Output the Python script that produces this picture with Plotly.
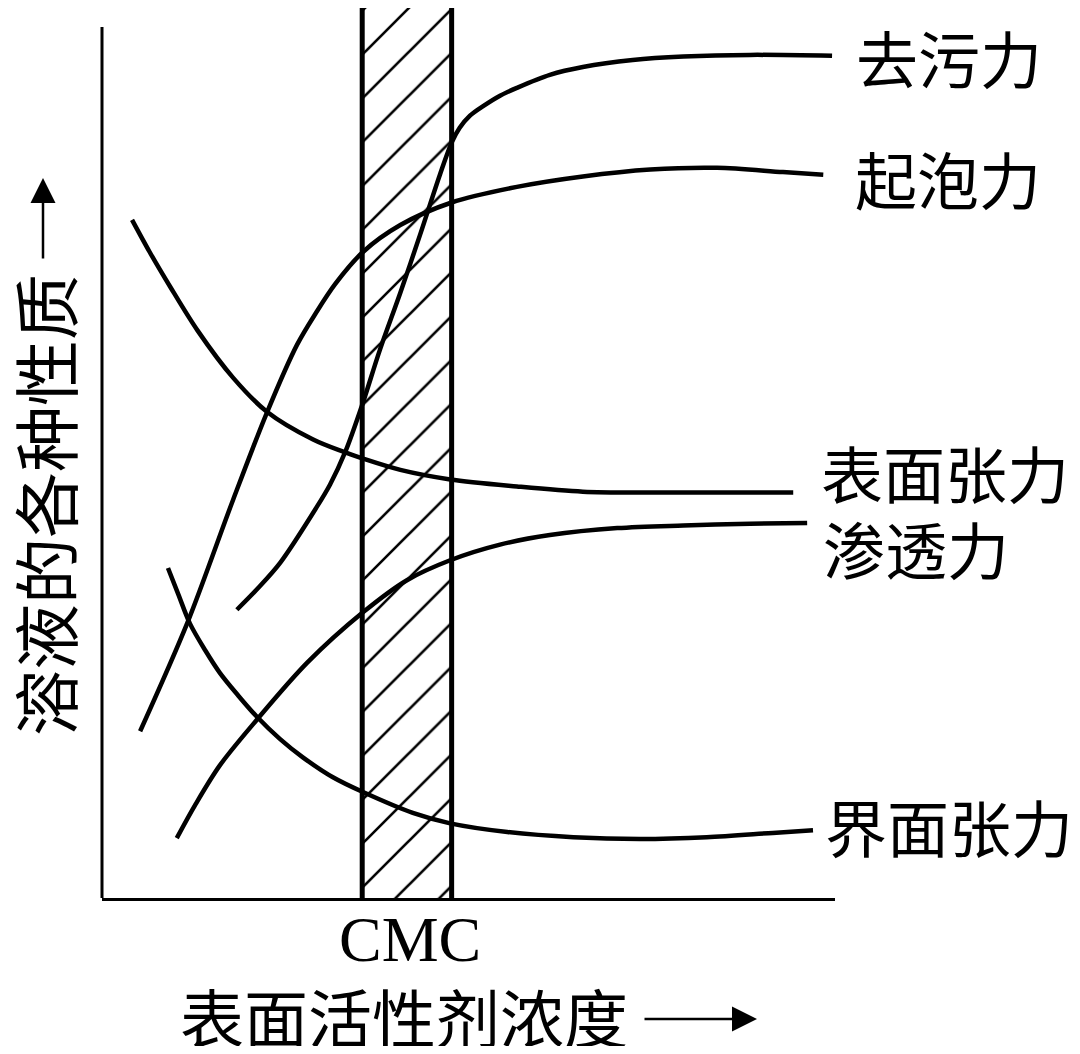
import plotly.graph_objects as go

# ---------------- data (arbitrary units: concentration 0-100, property 0-100) -------------
detergency_x = [18.4, 21.3, 24.3, 29.2, 31.1, 33.2, 35.5, 37.9, 40.7, 43.4, 46.1, 47.7, 48.8, 50.2, 52.0, 54.3, 56.6, 61.1, 65.6, 72.4, 79.3, 88.4, 99.6]
detergency_y = [33.2, 35.7, 38.6, 44.9, 47.6, 51.4, 56.8, 63.1, 69.7, 76.4, 83.3, 87.0, 88.7, 90.1, 91.2, 92.4, 93.3, 94.8, 95.7, 96.5, 96.9, 97.1, 97.0]

foaming_x = [5.2, 11.7, 17.9, 22.5, 26.6, 29.2, 31.8, 35.6, 40.7, 47.7, 56.6, 65.6, 74.8, 83.9, 92.9, 98.4]
foaming_y = [19.2, 31.8, 45.9, 55.9, 63.7, 67.4, 70.7, 74.4, 77.5, 80.1, 81.9, 83.1, 83.9, 84.1, 83.6, 83.3]

surface_x = [4.1, 6.5, 9.3, 13.0, 17.9, 22.5, 28.8, 32.9, 35.6, 40.7, 47.5, 56.6, 65.6, 74.8, 83.9, 94.3]
surface_y = [78.1, 74.4, 70.4, 65.4, 59.9, 56.0, 52.8, 51.4, 50.6, 49.3, 48.2, 47.4, 46.8, 46.7, 46.7, 46.7]

penetration_x = [10.2, 12.7, 16.1, 21.1, 28.0, 35.6, 41.6, 47.5, 54.3, 61.1, 70.3, 79.3, 88.4, 96.2]
penetration_y = [6.9, 10.7, 15.3, 20.5, 27.1, 32.9, 36.6, 38.9, 40.7, 41.8, 42.6, 42.9, 43.1, 43.2]

interfacial_x = [9.0, 10.4, 12.0, 14.1, 16.1, 18.6, 21.1, 24.3, 27.4, 31.5, 35.6, 42.4, 47.5, 55.3, 64.3, 73.4, 82.5, 91.5, 97.0]
interfacial_y = [38.0, 35.0, 31.6, 28.5, 25.9, 23.3, 20.9, 18.3, 16.2, 13.9, 12.2, 9.8, 8.6, 7.6, 7.0, 6.8, 7.0, 7.5, 7.8]

series_names = ["去污力", "起泡力", "表面张力", "渗透力", "界面张力"]

cmc_low = 35.5
cmc_high = 47.7
cmc_label = "CMC"

x_title = "表面活性剂浓度"
y_title = "溶液的各种性质"

# ---------------- layout constants ----------------
X_MAX = 100.0
Y_MAX = 102.5      # top of the CMC band
Y_AXIS_TOP = 100.3
CJK = "Noto Sans CJK SC"
TEXT_SIZE = 62

# page body has an 8px margin: plot area occupies screen x 102..835, y 8..898
PLOT_L, PLOT_R, PLOT_T, PLOT_B = 102, 835, 8, 898


def px(sx):
    return (sx - PLOT_L) / (PLOT_R - PLOT_L)


def py(sy):
    return (PLOT_B - sy) / (PLOT_B - PLOT_T)


fig = go.Figure()

# hatched CMC band
fig.add_trace(go.Scatter(
    x=[cmc_low, cmc_high, cmc_high, cmc_low, cmc_low],
    y=[0, 0, Y_MAX, Y_MAX, 0],
    mode="lines", fill="toself",
    line=dict(width=0, color="rgba(0,0,0,0)"),
    fillcolor="white",
    fillpattern=dict(shape="/", size=31, solidity=0.085, fgcolor="black", bgcolor="white",
                     fgopacity=1, fillmode="replace"),
    hoverinfo="skip", showlegend=False,
))

curves = [
    (detergency_x, detergency_y),
    (foaming_x, foaming_y),
    (surface_x, surface_y),
    (penetration_x, penetration_y),
    (interfacial_x, interfacial_y),
]
for (xs, ys), name in zip(curves, series_names):
    fig.add_trace(go.Scatter(
        x=xs, y=ys, mode="lines", name=name,
        line=dict(color="black", width=4.5, shape="spline", smoothing=0.9),
        showlegend=False,
    ))

shapes = []
# CMC band borders
for xv in (cmc_low, cmc_high):
    shapes.append(dict(type="line", xref="x", yref="y", x0=xv, x1=xv, y0=0, y1=Y_MAX,
                       line=dict(color="black", width=5)))
# y axis line
shapes.append(dict(type="line", xref="paper", yref="y", x0=0, x1=0, y0=0, y1=Y_AXIS_TOP,
                   line=dict(color="black", width=3)))

# curve labels (screen position of left edge / vertical centre)
label_pos = [(854, 57), (853, 178), (819, 472), (821, 548), (823, 826)]
annotations = []
for name, (lx, ly) in zip(series_names, label_pos):
    annotations.append(dict(x=px(lx), y=py(ly), xref="paper", yref="paper", text=name,
                            showarrow=False, xanchor="left", yanchor="middle",
                            font=dict(family=CJK, size=TEXT_SIZE, color="black")))

# CMC label
annotations.append(dict(x=px(410), y=py(939), xref="paper", yref="paper", text=cmc_label,
                        showarrow=False, xanchor="center", yanchor="middle",
                        font=dict(family="Liberation Serif", size=64, color="black")))

# x title + arrow
annotations.append(dict(x=px(404), y=py(1015), xref="paper", yref="paper", text=x_title,
                        showarrow=False, xanchor="center", yanchor="middle",
                        font=dict(family=CJK, size=64, color="black")))
annotations.append(dict(x=px(757), y=py(1019), xref="paper", yref="paper", text="",
                        showarrow=True, ax=-114, ay=0, axref="pixel", ayref="pixel",
                        arrowhead=2, arrowsize=2.0, arrowwidth=2.5, arrowcolor="black"))

# y title + arrow
annotations.append(dict(x=px(43), y=py(505), xref="paper", yref="paper", text=y_title,
                        showarrow=False, xanchor="center", yanchor="middle", textangle=-90,
                        font=dict(family=CJK, size=66, color="black")))
annotations.append(dict(x=px(43), y=py(178), xref="paper", yref="paper", text="",
                        showarrow=True, ax=0, ay=82, axref="pixel", ayref="pixel",
                        arrowhead=2, arrowsize=2.0, arrowwidth=2.5, arrowcolor="black"))

fig.update_layout(
    width=1064, height=1038,
    margin=dict(l=PLOT_L - 8, r=1064 - (PLOT_R - 8), t=PLOT_T - 8, b=1038 - (PLOT_B - 8), pad=0),
    paper_bgcolor="white", plot_bgcolor="white",
    shapes=shapes, annotations=annotations,
    showlegend=False,
    xaxis=dict(range=[0, X_MAX], showgrid=False, zeroline=False, showticklabels=False,
               ticks="", showline=True, linecolor="black", linewidth=3, fixedrange=True),
    yaxis=dict(range=[0, Y_MAX], showgrid=False, zeroline=False, showticklabels=False,
               ticks="", showline=False, fixedrange=True),
)

fig.write_html("out.html")
